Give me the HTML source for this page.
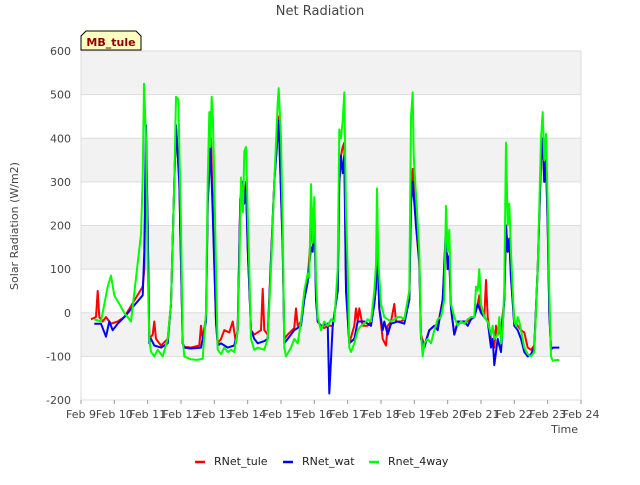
<!DOCTYPE html>
<html><head><meta charset="utf-8"><style>
body{margin:0;background:#fff;font-family:"Liberation Sans","DejaVu Sans",sans-serif}
svg text{font-family:"DejaVu Sans","Liberation Sans",sans-serif}
</style></head><body>
<svg id="chart" width="640" height="480" viewBox="0 0 640 480">
<text x="320" y="15" text-anchor="middle" font-size="13" fill="#444">Net Radiation</text>
<g id="bands"></g>
<g id="grid"></g>
<g id="yticks"></g>
<g id="xticks"></g>
<text transform="translate(18,226) rotate(-90)" text-anchor="middle" font-size="11" fill="#444">Solar Radiation (W/m2)</text>
<text x="578" y="433" text-anchor="end" font-size="11" fill="#444">Time</text>
<g id="series"></g>
<g>
<path d="M81,50 L81,36 L86,31 L136,31 L141,36 L141,50 Z" fill="#ffffc0" stroke="#000" stroke-width="1"/>
<text x="111" y="46" text-anchor="middle" font-size="11" font-weight="bold" fill="#8b0000">MB_tule</text>
</g>
<g>
<g><line x1="195" y1="462" x2="205" y2="462" stroke="#f00" stroke-width="2.5"/><text x="214" y="465" font-size="11" fill="#222">RNet_tule</text></g>
<g><line x1="283" y1="462" x2="293" y2="462" stroke="#00f" stroke-width="2.5"/><text x="302" y="465" font-size="11" fill="#222">RNet_wat</text></g>
<g><line x1="369" y1="462" x2="379" y2="462" stroke="#0f0" stroke-width="2.5"/><text x="388" y="465" font-size="11" fill="#222">Rnet_4way</text></g>
</g>
</svg>
<script>
const yTicks=[-200,-100,0,100,200,300,400,500,600];
const xTickLabels=["Feb 9","Feb 10","Feb 11","Feb 12","Feb 13","Feb 14","Feb 15","Feb 16","Feb 17","Feb 18","Feb 19","Feb 20","Feb 21","Feb 22","Feb 23","Feb 24"];
const tuleSeries=[[0.3,-15],[0.45,-10],[0.5,50],[0.55,-10],[0.65,-20],[0.75,-10],[0.9,-25],[1.1,-20],[1.3,-10],[1.85,60],[1.9,100],[1.95,380],[2.0,200],[2.05,-60],[2.15,-50],[2.2,-20],[2.25,-60],[2.4,-75],[2.6,-60],[2.7,20],[2.8,300],[2.85,430],[2.95,300],[3.05,-70],[3.1,-78],[3.3,-80],[3.55,-75],[3.6,-30],[3.65,-60],[3.75,-10],[3.8,250],[3.85,350],[3.9,400],[3.95,250],[4.05,-20],[4.1,-70],[4.2,-60],[4.3,-40],[4.45,-45],[4.55,-20],[4.65,-70],[4.7,-40],[4.78,260],[4.85,300],[4.9,260],[4.95,300],[5.0,150],[5.1,-40],[5.2,-50],[5.4,-40],[5.45,55],[5.5,-40],[5.6,-50],[5.8,300],[5.93,450],[6.05,150],[6.1,-60],[6.2,-50],[6.4,-35],[6.45,10],[6.5,-30],[6.6,-20],[6.7,40],[6.8,80],[6.9,180],[7.0,250],[7.05,40],[7.1,-20],[7.2,-30],[7.3,-35],[7.4,-30],[7.55,-30],[7.7,50],[7.75,300],[7.8,360],[7.85,380],[7.9,390],[7.95,60],[8.05,-70],[8.2,-30],[8.25,10],[8.3,-20],[8.35,10],[8.45,-30],[8.6,-30],[8.7,-20],[8.8,20],[8.85,60],[8.88,160],[8.95,10],[9.05,-60],[9.15,-75],[9.2,-30],[9.3,-20],[9.4,20],[9.45,-20],[9.6,-20],[9.7,-15],[9.85,30],[9.9,260],[9.95,330],[10.05,200],[10.15,110],[10.2,-50],[10.3,-75],[10.45,-40],[10.6,-30],[10.7,-30],[10.85,30],[10.95,170],[11.0,100],[11.05,120],[11.1,10],[11.2,-50],[11.3,-25],[11.5,-20],[11.6,-20],[11.7,-10],[11.8,-10],[11.9,20],[11.95,40],[12.0,0],[12.1,-10],[12.15,75],[12.2,-10],[12.3,-60],[12.4,-80],[12.45,-30],[12.5,-50],[12.6,-40],[12.7,30],[12.75,200],[12.8,140],[12.85,170],[12.9,80],[13.0,-20],[13.1,-30],[13.2,-40],[13.3,-45],[13.4,-80],[13.5,-85],[13.6,-75],[13.7,100],[13.8,350],[13.85,380],[13.9,300],[13.95,350],[14.0,200],[14.05,0],[14.1,-80]];
const watSeries=[[0.4,-25],[0.6,-25],[0.75,-55],[0.85,-20],[0.95,-40],[1.1,-25],[1.3,-10],[1.85,40],[1.9,140],[1.95,430],[2.0,200],[2.05,-70],[2.1,-60],[2.2,-75],[2.4,-80],[2.6,-70],[2.7,20],[2.8,300],[2.85,430],[2.95,300],[3.05,-70],[3.1,-80],[3.3,-82],[3.6,-80],[3.75,-20],[3.8,250],[3.85,320],[3.88,390],[3.92,300],[3.95,230],[4.05,-20],[4.1,-75],[4.2,-70],[4.4,-80],[4.6,-75],[4.7,-40],[4.78,260],[4.85,300],[4.9,250],[4.95,290],[5.0,150],[5.1,-40],[5.2,-60],[5.3,-70],[5.5,-65],[5.6,-60],[5.8,300],[5.93,440],[6.05,150],[6.1,-70],[6.2,-60],[6.4,-40],[6.6,-30],[6.7,30],[6.8,70],[6.9,150],[6.95,140],[7.0,240],[7.05,30],[7.1,-20],[7.2,-30],[7.4,-25],[7.45,-185],[7.55,-30],[7.7,50],[7.75,300],[7.8,360],[7.85,320],[7.9,360],[7.95,50],[8.05,-70],[8.2,-60],[8.3,-20],[8.5,-20],[8.7,-30],[8.8,20],[8.85,60],[8.88,190],[8.95,10],[9.05,-40],[9.1,-20],[9.2,-50],[9.3,-25],[9.5,-20],[9.7,-25],[9.85,30],[9.9,250],[9.95,300],[10.05,200],[10.15,120],[10.2,-60],[10.3,-80],[10.45,-40],[10.6,-30],[10.7,-40],[10.85,30],[10.95,200],[11.0,100],[11.05,130],[11.1,10],[11.2,-50],[11.3,-20],[11.5,-20],[11.6,-30],[11.7,-15],[11.8,-10],[11.9,20],[12.0,0],[12.1,-10],[12.2,-20],[12.3,-80],[12.35,-60],[12.4,-120],[12.5,-60],[12.6,-90],[12.7,30],[12.75,200],[12.8,140],[12.85,170],[12.9,80],[13.0,-30],[13.1,-40],[13.2,-60],[13.3,-90],[13.4,-100],[13.5,-95],[13.6,-80],[13.7,100],[13.8,350],[13.85,400],[13.9,300],[13.95,350],[14.0,200],[14.05,0],[14.1,-85],[14.15,-80],[14.35,-80]];
const fourWaySeries=[[0.4,-15],[0.6,-20],[0.8,60],[0.9,85],[1.0,40],[1.3,0],[1.5,-20],[1.8,180],[1.85,310],[1.89,525],[1.95,400],[2.0,100],[2.05,-60],[2.1,-90],[2.2,-100],[2.3,-85],[2.45,-100],[2.6,-60],[2.7,20],[2.8,300],[2.85,495],[2.92,490],[3.0,200],[3.05,-60],[3.1,-100],[3.3,-107],[3.5,-108],[3.65,-105],[3.75,0],[3.8,300],[3.85,460],[3.88,380],[3.92,495],[3.96,440],[4.0,300],[4.05,100],[4.1,-85],[4.2,-95],[4.3,-80],[4.4,-90],[4.5,-85],[4.6,-90],[4.7,-40],[4.75,100],[4.8,310],[4.86,230],[4.9,370],[4.95,380],[5.0,230],[5.05,100],[5.1,-60],[5.2,-85],[5.3,-80],[5.5,-85],[5.6,-60],[5.7,100],[5.8,300],[5.9,480],[5.93,515],[6.0,400],[6.05,200],[6.1,-80],[6.15,-100],[6.3,-80],[6.4,-60],[6.5,-70],[6.6,-20],[6.7,50],[6.8,90],[6.85,80],[6.9,295],[6.95,160],[7.0,265],[7.05,80],[7.1,-10],[7.2,-40],[7.3,-20],[7.4,-30],[7.5,-15],[7.6,-20],[7.7,100],[7.75,420],[7.8,400],[7.85,440],[7.9,505],[7.95,230],[8.0,100],[8.05,-80],[8.1,-90],[8.2,-70],[8.3,-40],[8.4,-30],[8.5,-25],[8.6,-15],[8.7,-20],[8.8,50],[8.85,110],[8.88,285],[8.92,120],[9.0,20],[9.1,-10],[9.2,-15],[9.3,-20],[9.4,-15],[9.5,-10],[9.6,-10],[9.7,-15],[9.8,30],[9.85,50],[9.9,450],[9.95,505],[9.98,360],[10.05,270],[10.15,140],[10.2,-50],[10.25,-100],[10.3,-70],[10.4,-60],[10.5,-70],[10.6,-40],[10.7,-15],[10.8,-10],[10.9,30],[10.95,245],[11.0,140],[11.05,190],[11.1,20],[11.2,-10],[11.3,-30],[11.4,-20],[11.5,-25],[11.6,-15],[11.7,-10],[11.8,-10],[11.85,60],[11.9,50],[11.95,100],[12.0,20],[12.1,-10],[12.2,-20],[12.3,-50],[12.35,-30],[12.4,-60],[12.5,-50],[12.55,-10],[12.6,-70],[12.65,-40],[12.7,60],[12.75,390],[12.8,200],[12.85,250],[12.9,140],[12.95,50],[13.0,-20],[13.05,-30],[13.1,-10],[13.15,-20],[13.2,-40],[13.3,-80],[13.4,-95],[13.5,-100],[13.6,-90],[13.7,100],[13.8,400],[13.85,460],[13.9,350],[13.95,410],[14.0,250],[14.05,50],[14.1,-100],[14.15,-110],[14.3,-108],[14.35,-110]];

const NS="http://www.w3.org/2000/svg";
const L=81,R=581,T=51,B=400,yMin=-200,yMax=600,xMax=15;
const xs=d=>L+d*(R-L)/xMax;
const ys=v=>B-(v-yMin)*(B-T)/(yMax-yMin);
function mk(tag,attrs,parent){const e=document.createElementNS(NS,tag);for(const k in attrs)e.setAttribute(k,attrs[k]);parent.appendChild(e);return e;}
const bands=document.getElementById('bands'),grid=document.getElementById('grid'),yt=document.getElementById('yticks'),xt=document.getElementById('xticks'),ser=document.getElementById('series');
mk('rect',{x:L,y:T,width:R-L,height:B-T,fill:'#fff',stroke:'#ddd'},bands);
for(let i=0;i<yTicks.length-1;i++){
  if(i%2===1){
    const r=mk('rect',{x:L,y:ys(yTicks[i+1]),width:R-L,height:ys(yTicks[i])-ys(yTicks[i+1]),fill:'#f2f2f2'},bands);
    
    
  }
}
yTicks.forEach(v=>{
  const g=mk('line',{x1:L,x2:R,y1:ys(v),y2:ys(v),stroke:'#ddd','stroke-width':1},grid);
  
  
  const t=mk('text',{x:L-10,y:ys(v)+4,'text-anchor':'end','font-size':11,fill:'#444'},yt);
  t.textContent=v;
  
  
});
mk('rect',{x:L,y:T,width:R-L,height:B-T,fill:'none',stroke:'#ddd'},grid);
xTickLabels.forEach((s,i)=>{
  mk('line',{x1:xs(i),x2:xs(i),y1:B,y2:B+4,stroke:'#999'},xt);
  const t=mk('text',{x:xs(i),y:B+18,'text-anchor':'middle','font-size':11,fill:'#444'},xt);
  t.textContent=s;
  
  
});
function draw(data,color,name){
  const p=mk('polyline',{points:data.map(d=>xs(d[0]).toFixed(1)+','+ys(d[1]).toFixed(1)).join(' '),fill:'none',stroke:color,'stroke-width':2,'stroke-linejoin':'round'},ser);
  
  
}
draw(tuleSeries,'#ff0000','rnet-tule-line');
draw(watSeries,'#0000ff','rnet-wat-line');
draw(fourWaySeries,'#00ff00','rnet-4way-line');
</script>
</body></html>
